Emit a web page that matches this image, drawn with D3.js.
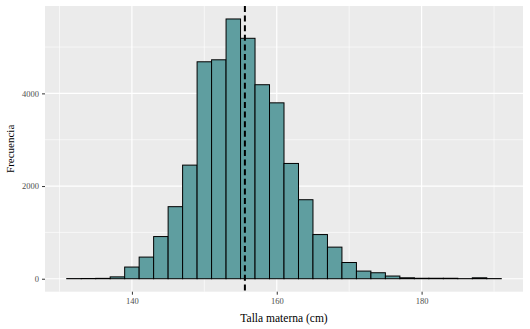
<!DOCTYPE html>
<html><head><meta charset="utf-8">
<script src="https://cdn.jsdelivr.net/npm/d3@7/dist/d3.min.js"></script>
<style>body{margin:0;background:#fff}svg{display:block}text{font-family:"Liberation Serif","Times New Roman",serif}</style>
</head><body><svg id="c" width="530" height="329"></svg>
<script>
// bin left edges (cm), bin width 2
const binStarts = [131,133,135,137,139,141,143,145,147,149,151,153,155,157,159,161,163,165,167,169,171,173,175,177,179,181,183,185,187,189];
const counts    = [3,5,8,40,252,467,910,1555,2452,4682,4725,5606,5189,4187,3796,2488,1705,953,682,350,165,129,58,20,10,10,10,2,20,3];
const binWidth = 2;
const meanValue = 155.6;
const xTicks = [140,160,180];
const xMinor = [130,150,170,190];
const yTicks = [0,2000,4000];
const yMinor = [1000,3000,5000];
const xLabel = "Talla materna (cm)";
const yLabel = "Frecuencia";

const FONT = '"Liberation Serif","Times New Roman",serif';
const svg = d3.select("#c");
const P = {l:45, r:523, t:6, b:291.7};
const x = d3.scaleLinear().domain([128,194]).range([P.l,P.r]);
const y = d3.scaleLinear().domain([-280,5886]).range([P.b,P.t]);

svg.append("rect").attr("x",P.l).attr("y",P.t).attr("width",P.r-P.l).attr("height",P.b-P.t).attr("fill","#EBEBEB");
const g = svg.append("g");
xMinor.forEach(v=>g.append("line").attr("x1",x(v)).attr("x2",x(v)).attr("y1",P.t).attr("y2",P.b).attr("stroke","#fff").attr("stroke-width",0.6));
yMinor.forEach(v=>g.append("line").attr("y1",y(v)).attr("y2",y(v)).attr("x1",P.l).attr("x2",P.r).attr("stroke","#fff").attr("stroke-width",0.6));
xTicks.forEach(v=>g.append("line").attr("x1",x(v)).attr("x2",x(v)).attr("y1",P.t).attr("y2",P.b).attr("stroke","#fff").attr("stroke-width",1.2));
yTicks.forEach(v=>g.append("line").attr("y1",y(v)).attr("y2",y(v)).attr("x1",P.l).attr("x2",P.r).attr("stroke","#fff").attr("stroke-width",1.2));

const data = binStarts.map((s,i)=>({s, c:counts[i]}));
svg.append("g").selectAll("rect").data(data).join("rect")
  .attr("x",d=>x(d.s)).attr("width",d=>x(d.s+binWidth)-x(d.s))
  .attr("y",d=>y(d.c)).attr("height",d=>y(0)-y(d.c))
  .attr("fill","#5F9EA0").attr("stroke","#000").attr("stroke-width",1);

svg.append("line").attr("x1",x(meanValue)).attr("x2",x(meanValue)).attr("y1",P.t).attr("y2",P.b)
  .attr("stroke","#000").attr("stroke-width",2).attr("stroke-dasharray","6,3.6");

const xa = d3.axisBottom(x).tickValues(xTicks).tickFormat(d3.format("d")).tickSize(3).tickPadding(3);
const xg = svg.append("g").attr("transform",`translate(0,${P.b})`).call(xa);
const ya = d3.axisLeft(y).tickValues(yTicks).tickFormat(d3.format("d")).tickSize(3).tickPadding(3);
const yg = svg.append("g").attr("transform",`translate(${P.l},0)`).call(ya);
[xg,yg].forEach(a=>{
  a.attr("font-family",null);
  a.select(".domain").remove();
  a.selectAll(".tick line").attr("stroke","#333");
  a.selectAll("text").attr("fill","#4D4D4D").style("font-family",FONT).style("font-size","8.5px");
});

svg.append("text").attr("x",(P.l+P.r)/2).attr("y",322).attr("text-anchor","middle")
  .style("font-family",FONT).style("font-size","11.5px").attr("fill","#000").text(xLabel);
svg.append("text").attr("transform",`translate(14,${(P.t+P.b)/2}) rotate(-90)`).attr("text-anchor","middle")
  .style("font-family",FONT).style("font-size","11px").attr("fill","#000").text(yLabel);
</script></body></html>
